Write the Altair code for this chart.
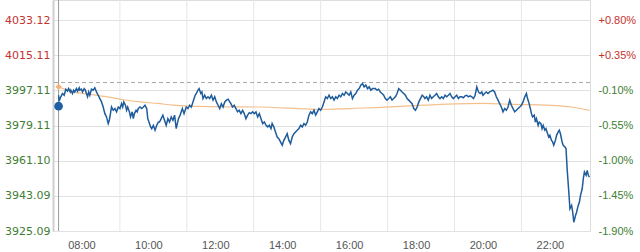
import altair as alt
import pandas as pd

# ---- data ----
prev_close = 4001.11
y_ticks = [3925.09, 3943.09, 3961.10, 3979.11, 3997.11, 4015.11, 4033.12]
label_hours = [60, 180, 300, 420, 540, 660, 780, 900]      # minutes after 07:00 (08:00 ... 22:00)
grid_hours = [120, 240, 360, 480, 600, 720, 840]           # minutes after 07:00 (09:00 ... 21:00)

minutes = [10, 11, 14, 17, 20, 23, 26, 28, 31, 32, 35, 37, 39, 42, 44, 47, 48, 51, 53, 56,
           58, 60, 62, 64, 66, 69, 72, 75, 78, 81, 84, 87, 90, 93, 96, 99, 101, 103, 105, 108,
           111, 114, 117, 120, 123, 125, 127, 130, 132, 134, 137, 139, 142, 144, 146, 149, 151, 153, 156, 159,
           162, 165, 168, 170, 173, 175, 177, 180, 183, 186, 189, 191, 194, 197, 200, 203, 206, 209, 212, 215,
           218, 221, 223, 225, 228, 230, 232, 235, 237, 239, 242, 245, 248, 250, 253, 255, 257, 260, 262, 265,
           267, 269, 272, 275, 278, 281, 284, 287, 290, 293, 296, 299, 302, 305, 308, 311, 314, 317, 319, 322,
           325, 328, 331, 334, 337, 340, 343, 346, 349, 352, 355, 358, 361, 364, 367, 370, 373, 376, 379, 382,
           385, 388, 391, 393, 396, 399, 402, 405, 408, 411, 414, 417, 420, 423, 426, 429, 432, 435, 438, 441,
           444, 447, 450, 453, 456, 459, 462, 465, 468, 471, 474, 477, 480, 483, 486, 489, 492, 495, 498, 501,
           504, 507, 510, 513, 516, 519, 522, 525, 528, 531, 534, 537, 540, 543, 546, 549, 552, 555, 558, 561,
           564, 567, 570, 573, 578, 581, 584, 587, 590, 593, 596, 599, 602, 605, 608, 611, 614, 617, 620, 623,
           626, 629, 632, 635, 638, 641, 644, 647, 650, 653, 656, 659, 662, 665, 667, 670, 673, 676, 679, 682,
           685, 688, 691, 694, 697, 700, 703, 706, 709, 712, 715, 718, 721, 724, 727, 730, 733, 736, 739, 742,
           745, 748, 751, 754, 757, 760, 763, 766, 769, 771, 774, 777, 780, 783, 786, 789, 792, 795, 798, 801,
           804, 807, 810, 813, 816, 819, 822, 825, 828, 831, 834, 837, 840, 843, 846, 849, 851, 853, 856, 858,
           860, 863, 865, 867, 870, 872, 875, 877, 879, 882, 884, 887, 889, 891, 894, 896, 898, 901, 903, 906,
           908, 910, 913, 915, 918, 920, 922, 925, 927, 930, 932, 934, 937, 939, 941, 944, 946, 949, 951, 953,
           956, 958, 960, 962]

prices = [3994.6, 3991.6, 3993.8, 3995.5, 3994.6, 3997.7, 3996.7, 3998.0, 3996.3, 3997.2, 3995.5, 3997.2, 3996.3, 3998.0, 3996.7, 3998.4, 3997.2, 3997.7, 3996.3, 3998.0,
          3997.2, 3995.5, 3993.8, 3996.3, 3994.6, 3997.7, 3997.2, 3998.4, 3996.3, 3994.6, 3992.9, 3991.2, 3988.6, 3985.2, 3983.5, 3980.1, 3981.8, 3985.2, 3988.6, 3986.9,
          3987.8, 3986.1, 3988.6, 3987.8, 3990.3, 3988.6, 3991.2, 3989.5, 3986.9, 3988.6, 3986.1, 3983.5, 3986.1, 3982.6, 3985.2, 3986.9, 3986.1, 3987.8, 3988.6, 3987.8,
          3988.6, 3989.5, 3987.8, 3982.6, 3980.1, 3978.4, 3977.5, 3979.2, 3976.7, 3979.2, 3980.9, 3980.9, 3982.6, 3984.4, 3981.8, 3979.2, 3982.6, 3980.9, 3983.5, 3981.8,
          3984.4, 3977.5, 3980.1, 3982.6, 3984.4, 3986.1, 3987.8, 3985.2, 3986.9, 3988.6, 3987.8, 3989.5, 3988.6, 3990.3, 3992.9, 3994.6, 3995.5, 3997.2, 3998.0, 3995.5,
          3996.3, 3992.9, 3994.6, 3992.9, 3993.8, 3992.9, 3994.6, 3992.1, 3993.8, 3991.2, 3989.5, 3987.8, 3990.3, 3988.6, 3991.2, 3992.1, 3992.6, 3991.2, 3990.3, 3988.6,
          3989.5, 3987.8, 3986.1, 3986.9, 3985.2, 3986.9, 3985.2, 3982.6, 3984.4, 3985.7, 3985.2, 3986.1, 3985.2, 3986.1, 3983.5, 3985.2, 3982.6, 3980.1, 3980.9, 3979.2,
          3978.4, 3979.2, 3977.5, 3980.1, 3978.4, 3975.8, 3973.2, 3972.4, 3970.7, 3969.0, 3971.5, 3973.2, 3974.9, 3971.5, 3969.8, 3973.2, 3974.9, 3975.8, 3976.7, 3977.5,
          3979.2, 3978.4, 3980.1, 3979.2, 3980.9, 3984.4, 3986.1, 3985.2, 3986.9, 3984.4, 3986.1, 3987.8, 3986.9, 3988.6, 3991.2, 3993.8, 3992.9, 3994.6, 3992.9, 3993.8,
          3992.1, 3993.8, 3992.9, 3994.6, 3993.8, 3995.5, 3994.6, 3996.3, 3995.5, 3994.6, 3996.3, 3992.9, 3994.6, 3995.5, 3997.2, 3998.0, 3999.8, 4000.6, 3998.9, 3999.8,
          3998.0, 3998.9, 3997.2, 3998.0, 3998.0, 3997.2, 3997.7, 3996.3, 3995.5, 3994.6, 3992.9, 3992.1, 3992.9, 3993.8, 3992.1, 3992.9, 3993.8, 3995.5, 3998.0, 3997.2,
          3996.3, 3995.5, 3994.6, 3992.9, 3992.1, 3991.2, 3990.3, 3987.8, 3986.9, 3988.6, 3991.2, 3992.9, 3994.6, 3993.8, 3992.9, 3993.8, 3992.1, 3994.6, 3992.9, 3993.8,
          3994.6, 3995.5, 3993.8, 3992.9, 3993.8, 3992.9, 3994.6, 3993.8, 3994.6, 3995.5, 3993.8, 3992.9, 3993.8, 3994.6, 3992.9, 3993.8, 3993.8, 3993.3, 3994.3, 3994.6,
          3993.8, 3994.3, 3993.8, 3992.9, 3994.6, 3998.9, 3996.3, 3995.5, 3996.3, 3994.6, 3995.5, 3996.3, 3995.5, 3996.3, 3996.7, 3997.2, 3996.3, 3993.8, 3992.1, 3990.3,
          3988.6, 3986.1, 3987.8, 3986.9, 3988.6, 3992.1, 3989.5, 3987.8, 3986.1, 3986.9, 3987.8, 3988.6, 3989.5, 3991.2, 3993.8, 3995.5, 3992.9, 3991.2, 3987.8, 3985.2,
          3983.5, 3984.4, 3980.9, 3982.6, 3979.2, 3980.9, 3980.1, 3977.5, 3979.2, 3976.7, 3977.5, 3974.9, 3973.2, 3974.1, 3971.5, 3970.7, 3969.0, 3971.5, 3974.1, 3975.8,
          3976.7, 3974.9, 3970.7, 3969.0, 3968.1, 3967.3, 3957.0, 3945.0, 3936.5, 3938.2, 3934.7, 3929.6, 3933.0, 3934.7, 3937.3, 3939.9, 3943.3, 3946.7, 3951.9, 3955.3,
          3953.6, 3956.1, 3953.6, 3952.7]

avg_minutes = [10, 36, 66, 97, 127, 156, 188, 215, 247, 308, 367, 441, 480, 530, 579, 665, 772, 828, 888, 930, 962]
avg_prices = [3998.9, 3996.3, 3995.1, 3993.8, 3992.3, 3991.2, 3990.4, 3989.5, 3989.0, 3988.7, 3988.6,
              3987.8, 3987.3, 3987.8, 3988.3, 3989.5, 3990.4, 3989.9, 3989.5, 3988.6, 3986.9]

start_minute = 10
start_dot_price = 3989.0

# ---- tables ----
line_df = pd.DataFrame({"t": minutes, "p": prices})
avg_df = pd.DataFrame({"t": avg_minutes, "p": avg_prices})
grid_df = pd.DataFrame({"t": grid_hours})
base_df = pd.DataFrame({"p": [prev_close]})
start_df = pd.DataFrame({"t": [start_minute]})
dot_df = pd.DataFrame({"t": [start_minute], "p": [start_dot_price]})
dia_df = pd.DataFrame({"t": [avg_minutes[0]], "p": [avg_prices[0]]})

RED = "#c4322e"
GREEN = "#3e7e32"
color_expr = f"datum.value > {prev_close} ? '{RED}' : '{GREEN}'"

x_scale = alt.Scale(domain=[0, 963], nice=False, zero=False)
y_scale = alt.Scale(domain=[3925.09, 4043.38], nice=False, zero=False)

x_axis = alt.Axis(values=label_hours, title=None, grid=False, ticks=False, tickSize=0, domain=False,
                  labelExpr="timeFormat(datetime(2020,0,1,7,datum.value),'%H:%M')",
                  labelFont="Liberation Sans", labelFontSize=11, labelColor="#555555",
                  labelPadding=8, labelOffset=-5)
X = alt.X("t:Q", scale=x_scale, axis=x_axis)

left_axis = alt.Axis(values=y_ticks, orient="left", title=None, format=".2f", grid=True,
                     gridColor="#e2e2e2", gridWidth=1, ticks=False, tickSize=0,
                     domainColor="#cfcfcf", domainWidth=2, labelPadding=3,
                     labelFont="DejaVu Sans", labelFontSize=11,
                     labelColor=alt.ExprRef(expr=color_expr))
right_axis = alt.Axis(values=y_ticks, orient="right", title=None, grid=False, ticks=False, tickSize=0,
                      domainColor="#dddddd", domainWidth=1, labelPadding=8,
                      labelFont="Liberation Sans", labelFontSize=11,
                      labelExpr=f"(datum.value >= {prev_close} ? '+' : '-') + format(abs((datum.value/{prev_close}-1)*100), '.2f') + '%'",
                      labelColor=alt.ExprRef(expr=color_expr))

vgrid = alt.Chart(grid_df).mark_rule(color="#e6e6e6", strokeWidth=1).encode(x=X)
start_rule = alt.Chart(start_df).mark_rule(color="#9a9a9a", strokeWidth=1).encode(x=X)
base_rule = alt.Chart(base_df).mark_rule(color="#a8a8a8", strokeWidth=1, strokeDash=[4, 3]).encode(
    y=alt.Y("p:Q", scale=y_scale, axis=None))

avg_line = alt.Chart(avg_df).mark_line(color="#f3c08c", strokeWidth=1.2, interpolate="monotone").encode(
    x=X, y=alt.Y("p:Q", scale=y_scale, axis=right_axis))
price_line = alt.Chart(line_df).mark_line(color="#1f5c9b", strokeWidth=1.5).encode(
    x=X, y=alt.Y("p:Q", scale=y_scale, axis=left_axis))
dia = alt.Chart(dia_df).mark_point(shape="diamond", filled=True, color="#f2b07c", size=40, opacity=1).encode(
    x=X, y=alt.Y("p:Q", scale=y_scale, axis=None))
dot = alt.Chart(dot_df).mark_circle(color="#1f5fa5", size=75, opacity=1).encode(
    x=X, y=alt.Y("p:Q", scale=y_scale, axis=None))

chart = alt.layer(vgrid, start_rule, base_rule, avg_line, price_line, dia, dot).resolve_scale(
    y="independent").resolve_axis(y="independent").properties(
    width=537, height=231,
    autosize=alt.AutoSizeParams(type="none"),
    padding={"left": 53, "top": 0, "right": 50, "bottom": 21},
).configure_view(stroke=None).configure(background="white")

chart.save("out.html", embed_options={"renderer": "svg", "actions": False})
